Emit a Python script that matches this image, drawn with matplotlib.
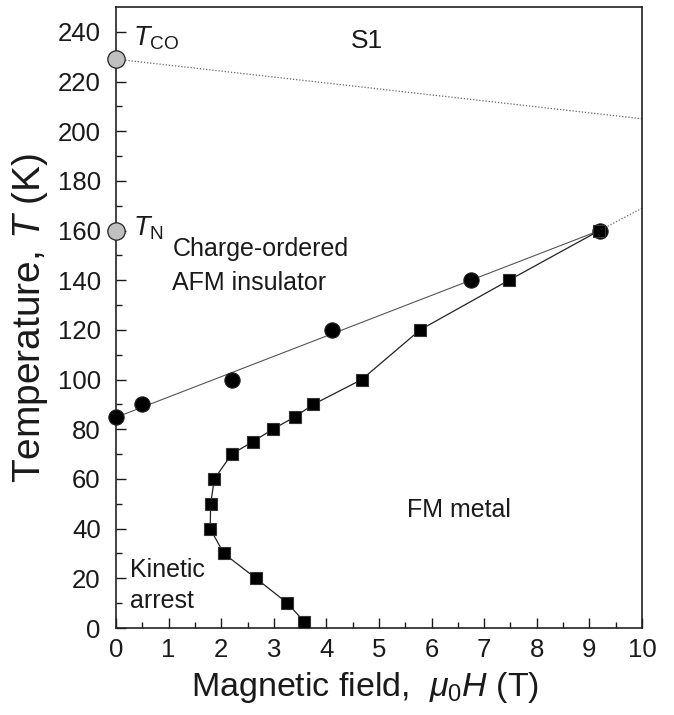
import numpy as np
import matplotlib
matplotlib.use("Agg")
import matplotlib.pyplot as plt

plt.rcParams['font.family'] = ['Liberation Sans', 'DejaVu Sans']
plt.rcParams['mathtext.fontset'] = 'custom'
plt.rcParams['mathtext.rm'] = 'Liberation Sans'
plt.rcParams['mathtext.it'] = 'Liberation Sans:italic'
plt.rcParams['mathtext.bf'] = 'Liberation Sans:bold'

# Data: circles (CO/AFM boundary)
circ_H = [0.0, 0.5, 2.2, 4.1, 6.75, 9.2]
circ_T = [85, 90, 100, 120, 140, 160]
# Squares (FM transition, kinetic arrest)
sq_H = [3.58, 3.26, 2.66, 2.05, 1.79, 1.80, 1.87, 2.20, 2.60, 2.98, 3.40, 3.75, 4.67, 5.78, 7.47, 9.19]
sq_T = [2.5, 10, 20, 30, 40, 50, 60, 70, 75, 80, 85, 90, 100, 120, 140, 160]
# Zero-field transitions
zero_H = [0.0, 0.0]
zero_T = [229, 160]
# Dotted guide lines
tco_H = [0.0, 10.0]
tco_T = [229, 205]
ext_H = [9.19, 10.0]
ext_T = [160, 169]

xticks = list(range(0, 11))
yticks = list(range(0, 241, 20))

tc = '#1a1a1a'

fig = plt.figure(figsize=(6.74, 7.15), dpi=100)
ax = fig.add_axes([116/674, 1 - 628/715, 526/674, 621/715])

# linear fit through circles
p = np.polyfit(circ_H, circ_T, 1)
xf = np.linspace(min(circ_H), max(circ_H), 50)
ax.plot(xf, np.polyval(p, xf), color='#555555', lw=0.8, zorder=2)

ax.plot(sq_H, sq_T, color='#222222', lw=0.9, zorder=2)
ax.plot(tco_H, tco_T, color='#666666', lw=0.9, ls=(0, (1, 1.5)), zorder=2)
ax.plot(ext_H, ext_T, color='#666666', lw=0.9, ls=(0, (1, 1.5)), zorder=2)

ax.plot(circ_H, circ_T, 'o', ms=11, mfc='black', mec='#222222', mew=0.8,
        ls='none', zorder=4, clip_on=False)
ax.plot(sq_H, sq_T, 's', ms=8, mfc='black', mec='#333333', mew=0.8,
        ls='none', zorder=4, clip_on=False)
ax.plot(zero_H, zero_T, 'o', ms=12.5, mfc='#c0c0c0', mec='#222222', mew=0.9,
        ls='none', zorder=5, clip_on=False)

ax.set_xlim(0, 10)
ax.set_ylim(0, 250)
ax.set_xticks(xticks)
ax.set_yticks(yticks)
ax.set_xticks(np.arange(0.5, 10, 1), minor=True)
ax.set_yticks(np.arange(10, 250, 20), minor=True)
ax.tick_params(which='both', direction='in', top=False, right=False,
               labelsize=18.5, colors=tc)
ax.tick_params(axis='y', pad=11)
ax.tick_params(axis='x', pad=7)
ax.tick_params(which='major', length=7, width=1.0)
ax.tick_params(which='minor', length=4, width=1.0)
for s in ax.spines.values():
    s.set_linewidth(1.2)
    s.set_color('#222222')

ax.set_xlabel('Magnetic field,  $\\mu_0H$ (T)', fontsize=24.5, color=tc, va='top')
ax.xaxis.set_label_coords(0.473, -0.068)
ax.set_ylabel('Temperature, $T$ (K)', fontsize=28, color=tc)
ax.yaxis.set_label_coords(-0.125, 0.5)

ax.text(4.77, 233.5, 'S1', fontsize=19, ha='center', va='baseline', color=tc)
ax.text(0.32, 234.3, '$T_{\\rm CO}$', fontsize=19.5, ha='left', va='baseline', color=tc)
ax.text(0.32, 158, '$T_{\\rm N}$', fontsize=19.5, ha='left', va='baseline', color=tc)
ax.text(1.07, 149.9, 'Charge-ordered', fontsize=18, ha='left', va='baseline', color=tc)
ax.text(1.07, 136.2, 'AFM insulator', fontsize=18, ha='left', va='baseline', color=tc)
ax.text(5.53, 44.8, 'FM metal', fontsize=18, ha='left', va='baseline', color=tc)
ax.text(0.27, 20.6, 'Kinetic', fontsize=18, ha='left', va='baseline', color=tc)
ax.text(0.27, 8.1, 'arrest', fontsize=18, ha='left', va='baseline', color=tc)

fig.savefig('out.png', dpi=100)
